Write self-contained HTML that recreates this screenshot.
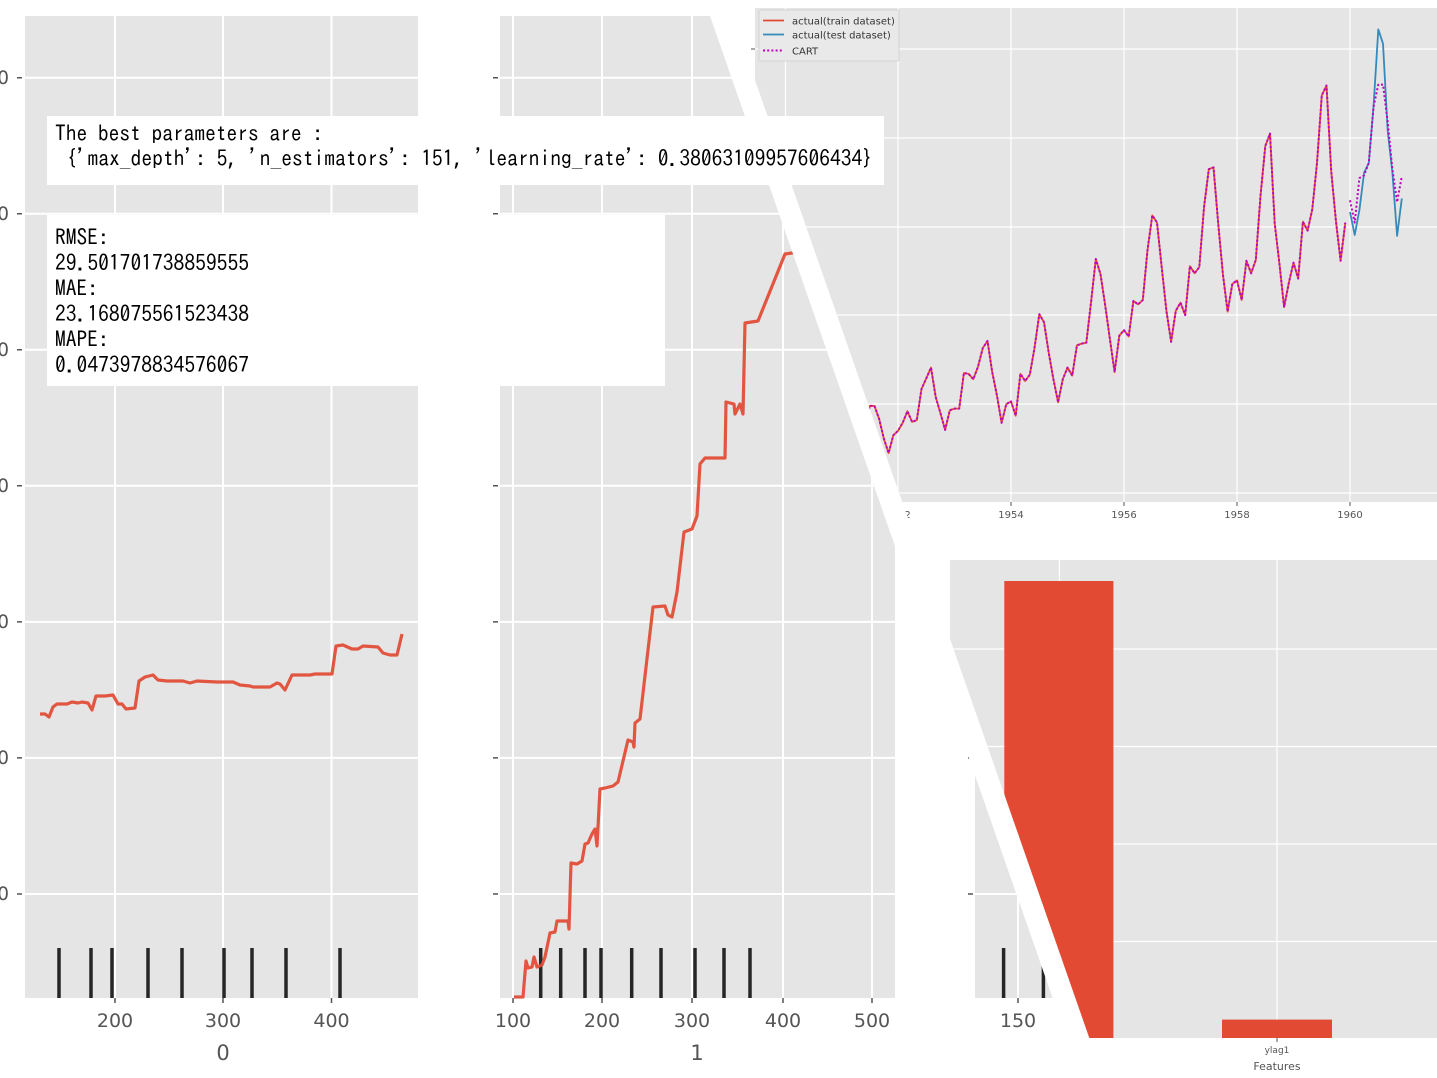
<!DOCTYPE html>
<html><head><meta charset="utf-8"><style>
html,body{margin:0;padding:0;background:#fff;}
svg{display:block;}
.pl{font-family:"DejaVu Sans","Liberation Sans",sans-serif;fill:#555;}
.mono{font-family:"IPAGothic","Liberation Mono",monospace;fill:#000;font-size:21.5px;}
</style></head><body>
<svg width="1437" height="1078" viewBox="0 0 1437 1078" xmlns="http://www.w3.org/2000/svg">
<defs><clipPath id="cr"><polygon points="727,0 1437,0 1437,1078 1103.3,1078"/></clipPath></defs>
<rect width="1437" height="1078" fill="#fff"/>

<!-- PDP base -->
<rect x="25" y="16" width="393" height="982" fill="#E5E5E5"/>
<rect x="500" y="16" width="395" height="982" fill="#E5E5E5"/>
<rect x="975" y="16" width="420" height="982" fill="#E5E5E5"/>
<g stroke="#fff" stroke-width="2" fill="none">
<path d="M115 16V998M223 16V998M331.5 16V998"/>
<path d="M25 77.7H418M25 213.7H418M25 349.8H418M25 485.8H418M25 621.9H418M25 757.9H418M25 894H418"/>
<path d="M513 16V998M602 16V998M692 16V998M783 16V998M872 16V998"/>
<path d="M500 77.7H895M500 213.7H895M500 349.8H895M500 485.8H895M500 621.9H895M500 757.9H895M500 894H895"/>
<path d="M1018 16V998"/>
<path d="M975 77.7H1395M975 213.7H1395M975 349.8H1395M975 485.8H1395M975 621.9H1395M975 757.9H1395M975 894H1395"/>
</g>
<!-- y ticks -->
<g stroke="#555" stroke-width="1.5">
<path d="M17 77.7H22M17 213.7H22M17 349.8H22M17 485.8H22M17 621.9H22M17 757.9H22M17 894H22"/>
<path d="M493 77.7H498M493 213.7H498M493 349.8H498M493 485.8H498M493 621.9H498M493 757.9H498M493 894H498"/>
<path d="M968 77.7H973M968 213.7H973M968 349.8H973M968 485.8H973M968 621.9H973M968 757.9H973M968 894H973"/>
<path d="M115 998V1003M223 998V1003M331.5 998V1003M513 998V1003M602 998V1003M692 998V1003M783 998V1003M872 998V1003M1018 998V1003"/>
</g>
<g class="pl" font-size="18.5" text-anchor="end">
<text x="9" y="84">500</text><text x="9" y="220">450</text><text x="9" y="356">400</text><text x="9" y="492">350</text><text x="9" y="628">300</text><text x="9" y="764">250</text><text x="9" y="900">200</text>
</g>
<g class="pl" font-size="19" text-anchor="middle">
<text x="115" y="1027">200</text><text x="223" y="1027">300</text><text x="331.5" y="1027">400</text>
<text x="513" y="1027">100</text><text x="602" y="1027">200</text><text x="692" y="1027">300</text><text x="783" y="1027">400</text><text x="872" y="1027">500</text>
<text x="1018" y="1027">150</text>
</g>
<g class="pl" font-size="21" text-anchor="middle">
<text x="223" y="1060">0</text><text x="697" y="1060">1</text>
</g>
<!-- rugs -->
<g stroke="#262626" stroke-width="3.5">
<path d="M59 948V998M91 948V998M112 948V998M148 948V998M182 948V998M224 948V998M252 948V998M286 948V998M340 948V998"/>
<path d="M540.7 948V998M560.7 948V998M585 948V998M601 948V998M631.7 948V998M661 948V998M695 948V998M724 948V998M750 948V998"/>
<path d="M1003.6 948V998M1043.4 948V998"/>
</g>
<!-- PDP lines -->
<g fill="none" stroke="#E24A33" stroke-width="3.2" stroke-linejoin="round" stroke-opacity="0.92">
<polyline points="40,714 45,714 49,717 53,707 57,704 67,704 72,702 78,703 82,702 88,703 92,710 96,696 105,696 113,695 118,704 122,704 126,709 135,708 139,681 145,677 153,675 158,680 167,681 183,681 190,683 197,681 217,682 233,682 240,685 250,686 253,687 270,687 277,683 280,684 285,690 292,675 310,675 315,674 332,674 336,646 343,645 352,649 358,649 363,646 378,647 383,653 390,655 397,655 402,634"/>
<polyline points="514,997 523,997 526,961 528,968 532,967 534,957 537,967 542,965 545,957 550,933 555,932 557,921 568,921 569,929 571,863 577,864 582,861 585,844 588,843 592,834 595,829 597,846 600,789 605,788 613,786 618,782 628,740 633,742 634,747 635,723 640,719 653,607 665,606 668,615 672,617 677,592 684,532 692,529 697,516 700,464 705,458 725,458 726,402 734,404 735,414 740,404 743,414 745,323 758,321 785,254 792,253 830,253"/>
</g>

<!-- white band -->
<polygon points="704.4,0 1437,0 1437,1078 1080.6,1078" fill="#fff"/>

<g clip-path="url(#cr)">
<rect x="700" y="0" width="737" height="1078" fill="#fff"/>
<!-- time series -->
<rect x="755" y="8" width="682" height="494" fill="#E5E5E5"/>
<g stroke="#fff" stroke-width="1.2" fill="none">
<path d="M785.5 8V502M898 8V502M1011 8V502M1124 8V502M1237 8V502M1350 8V502"/>
<path d="M755 49H1437M755 138H1437M755 227H1437M755 315H1437M755 404H1437M755 493H1437"/>
</g>
<g stroke="#555" stroke-width="1"><path d="M898 502V506M1011 502V506M1124 502V506M1237 502V506M1350 502V506M751 49H755"/></g>
<g class="pl" font-size="10" text-anchor="middle">
<text x="898" y="518">1952</text><text x="1011" y="518">1954</text><text x="1124" y="518">1956</text><text x="1237" y="518">1958</text><text x="1350" y="518">1960</text>
</g>
<g fill="none" stroke-linejoin="round">
<polyline stroke="#E24A33" stroke-width="1.8" points="850.9,424.6 855.6,437.9 860.3,429.9 865.0,424.6 869.8,405.9 874.5,405.9 879.2,419.2 883.9,438.8 888.6,453.1 893.3,435.3 898.0,430.8 902.7,422.8 907.4,411.2 912.1,421.9 916.8,420.1 921.5,389.0 926.3,378.3 931.0,367.6 935.7,397.0 940.4,413.0 945.1,429.9 949.8,410.3 954.5,408.6 959.2,408.6 963.9,373.0 968.6,373.9 973.3,379.2 978.0,366.7 982.8,348.0 987.5,340.9 992.2,372.1 996.9,395.2 1001.6,422.8 1006.3,404.1 1011.0,401.4 1015.7,415.7 1020.4,373.9 1025.1,381.0 1029.8,374.7 1034.5,348.0 1039.3,314.2 1044.0,322.2 1048.7,352.5 1053.4,379.2 1058.1,402.3 1062.8,379.2 1067.5,367.6 1072.2,375.6 1076.9,345.4 1081.6,343.6 1086.3,342.7 1091.0,302.7 1095.8,259.0 1100.5,274.2 1105.2,305.3 1109.9,339.1 1114.6,372.1 1119.3,335.6 1124.0,330.2 1128.7,336.5 1133.4,300.9 1138.1,304.4 1142.8,300.0 1147.5,250.1 1152.3,215.4 1157.0,222.6 1161.7,267.1 1166.4,310.7 1171.1,341.8 1175.8,310.7 1180.5,302.7 1185.2,315.1 1189.9,266.2 1194.6,273.3 1199.3,267.1 1204.0,207.4 1208.8,169.2 1213.5,167.4 1218.2,223.4 1222.9,274.2 1227.6,311.6 1232.3,284.0 1237.0,280.4 1241.7,300.0 1246.4,260.8 1251.1,273.3 1255.8,259.9 1260.5,195.9 1265.3,146.0 1270.0,133.6 1274.7,223.4 1279.4,263.5 1284.1,307.1 1288.8,283.1 1293.5,262.6 1298.2,278.6 1302.9,221.7 1307.6,230.6 1312.3,209.2 1317.0,162.9 1321.8,95.3 1326.5,85.5 1331.2,170.9 1335.9,220.8 1340.6,260.8 1345.3,222.6"/>
<polyline stroke="#348ABD" stroke-width="1.8" points="1350.0,211.9 1354.7,235.0 1359.4,210.1 1364.1,172.7 1368.8,162.9 1373.5,106.9 1378.3,29.4 1383.0,43.7 1387.7,130.9 1392.4,172.7 1397.1,235.9 1401.8,198.5"/>
<polyline stroke="#BF00BF" stroke-width="2" stroke-dasharray="2 2.2" points="850.9,424.6 855.6,437.9 860.3,429.9 865.0,424.6 869.8,405.9 874.5,405.9 879.2,419.2 883.9,438.8 888.6,453.1 893.3,435.3 898.0,430.8 902.7,422.8 907.4,411.2 912.1,421.9 916.8,420.1 921.5,389.0 926.3,378.3 931.0,367.6 935.7,397.0 940.4,413.0 945.1,429.9 949.8,410.3 954.5,408.6 959.2,408.6 963.9,373.0 968.6,373.9 973.3,379.2 978.0,366.7 982.8,348.0 987.5,340.9 992.2,372.1 996.9,395.2 1001.6,422.8 1006.3,404.1 1011.0,401.4 1015.7,415.7 1020.4,373.9 1025.1,381.0 1029.8,374.7 1034.5,348.0 1039.3,314.2 1044.0,322.2 1048.7,352.5 1053.4,379.2 1058.1,402.3 1062.8,379.2 1067.5,367.6 1072.2,375.6 1076.9,345.4 1081.6,343.6 1086.3,342.7 1091.0,302.7 1095.8,259.0 1100.5,274.2 1105.2,305.3 1109.9,339.1 1114.6,372.1 1119.3,335.6 1124.0,330.2 1128.7,336.5 1133.4,300.9 1138.1,304.4 1142.8,300.0 1147.5,250.1 1152.3,215.4 1157.0,222.6 1161.7,267.1 1166.4,310.7 1171.1,341.8 1175.8,310.7 1180.5,302.7 1185.2,315.1 1189.9,266.2 1194.6,273.3 1199.3,267.1 1204.0,207.4 1208.8,169.2 1213.5,167.4 1218.2,223.4 1222.9,274.2 1227.6,311.6 1232.3,284.0 1237.0,280.4 1241.7,300.0 1246.4,260.8 1251.1,273.3 1255.8,259.9 1260.5,195.9 1265.3,146.0 1270.0,133.6 1274.7,223.4 1279.4,263.5 1284.1,307.1 1288.8,283.1 1293.5,262.6 1298.2,278.6 1302.9,221.7 1307.6,230.6 1312.3,209.2 1317.0,162.9 1321.8,95.3 1326.5,85.5 1331.2,170.9 1335.9,220.8 1340.6,260.8 1345.3,222.6"/>
<polyline stroke="#BF00BF" stroke-width="2" stroke-dasharray="2 2.2" points="1350.0,200.3 1354.7,222.6 1359.4,178.1 1364.1,175.4 1368.8,162.9 1373.5,106.9 1378.3,84.6 1383.0,84.6 1387.7,122.0 1392.4,169.2 1397.1,202.1 1401.8,176.3"/>
</g>
<!-- legend -->
<rect x="759" y="10" width="140" height="51" rx="2" fill="#E9E9E9" stroke="#D4D4D4" stroke-width="1"/>
<path d="M763 20.5H784" stroke="#E24A33" stroke-width="1.8"/>
<path d="M763 34.5H784" stroke="#348ABD" stroke-width="1.8"/>
<path d="M763 50.5H784" stroke="#BF00BF" stroke-width="2" stroke-dasharray="2 2.2"/>
<g font-family="DejaVu Sans, Liberation Sans, sans-serif" font-size="10" fill="#333">
<text x="792" y="24.5">actual(train dataset)</text>
<text x="792" y="38.5">actual(test dataset)</text>
<text x="792" y="54.5">CART</text>
</g>
<!-- bar chart -->
<rect x="950" y="560" width="487" height="478" fill="#E5E5E5"/>
<g stroke="#fff" stroke-width="1.2" fill="none">
<path d="M1059.4 560V1038M1277 560V1038"/>
<path d="M950 649H1437M950 746.5H1437M950 844H1437M950 941.5H1437"/>
</g>
<rect x="1004.3" y="581" width="109.1" height="457" fill="#E24A33"/>
<rect x="1222" y="1019.6" width="110" height="18.4" fill="#E24A33"/>
<path d="M1277 1038V1042" stroke="#555" stroke-width="1"/>
<text class="pl" x="1277" y="1053" font-size="9" text-anchor="middle">ylag1</text>
<text class="pl" x="1277" y="1070" font-size="11" text-anchor="middle">Features</text>
</g>

<!-- text boxes -->
<rect x="47" y="116" width="837" height="69" fill="#fff"/>
<text class="mono" x="55" y="141" textLength="268" lengthAdjust="spacingAndGlyphs">The best parameters are :</text>
<text class="mono" x="66" y="166" textLength="807" lengthAdjust="spacingAndGlyphs">{'max_depth': 5, 'n_estimators': 151, 'learning_rate': 0.38063109957606434}</text>
<rect x="47" y="215" width="618" height="171" fill="#fff"/>
<g class="mono">
<text x="55" y="245">RMSE:</text>
<text x="55" y="270.5" textLength="194" lengthAdjust="spacingAndGlyphs">29.501701738859555</text>
<text x="55" y="296">MAE:</text>
<text x="55" y="321.5" textLength="194" lengthAdjust="spacingAndGlyphs">23.168075561523438</text>
<text x="55" y="347">MAPE:</text>
<text x="55" y="372.5" textLength="194" lengthAdjust="spacingAndGlyphs">0.0473978834576067</text>
</g>
</svg>
</body></html>
